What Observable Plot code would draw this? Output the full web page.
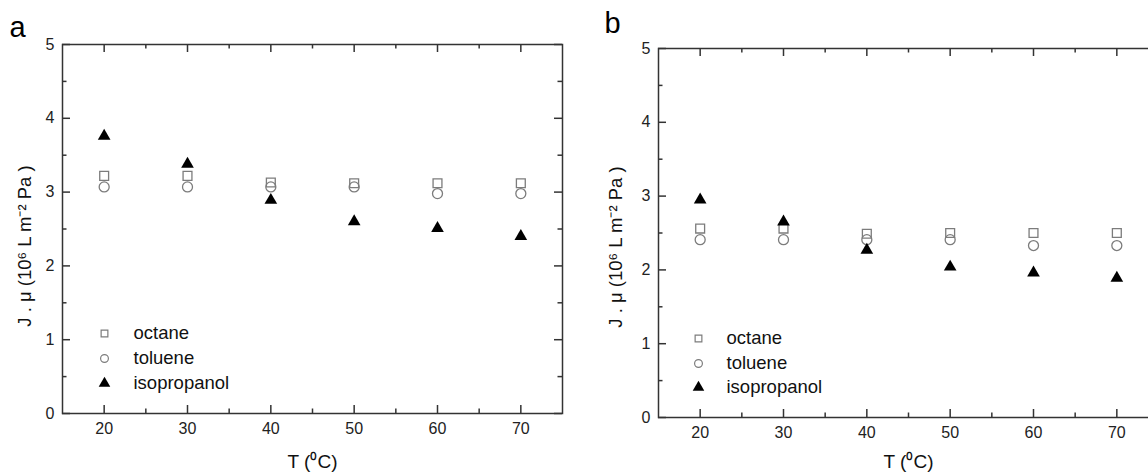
<!DOCTYPE html>
<html>
<head>
<meta charset="utf-8">
<script src="https://cdn.jsdelivr.net/npm/d3@7"></script>
<script src="https://cdn.jsdelivr.net/npm/@observablehq/plot@0.6"></script>
<style>
  html, body { margin: 0; padding: 0; background: #fff; }
  #wrap { position: relative; width: 1148px; height: 473px; overflow: hidden; background: #fff; }
  #wrap > div { position: absolute; top: 0; }
  #wrap svg { max-width: none !important; }
</style>
</head>
<body>
<div id="wrap"><div id="pa" style="left:0;width:574px"></div><div id="pb" style="left:574px;width:600px"></div></div>
<script>
// ---- data ----
const temps = [20, 30, 40, 50, 60, 70];
const seriesNames = ["octane", "toluene", "isopropanol"];
const aOctane = [3.22, 3.22, 3.13, 3.12, 3.12, 3.12];
const aToluene = [3.07, 3.07, 3.07, 3.07, 2.98, 2.98];
const aIsopropanol = [3.76, 3.38, 2.89, 2.60, 2.51, 2.40];
const bOctane = [2.56, 2.56, 2.49, 2.50, 2.50, 2.50];
const bToluene = [2.41, 2.41, 2.41, 2.41, 2.33, 2.33];
const bIsopropanol = [2.95, 2.65, 2.27, 2.04, 1.96, 1.89];
const xMajor = [20, 30, 40, 50, 60, 70];
const xMinor = [25, 35, 45, 55, 65];
const yMajor = [0, 1, 2, 3, 4, 5];
const yMinor = [0.5, 1.5, 2.5, 3.5, 4.5];
const yLabel = "J . \u03bc (10\u2076 L m\u207b\u00b2 Pa )";
const xLabel = "T (\u2070C)";

const FONT = "'Liberation Sans', Arial, Helvetica, sans-serif";
const GREY = "#7c7c7c";
const INK = "#222";

function rows(vals) { return temps.map((t, i) => ({t, v: vals[i]})); }

function panel(cfg) {
  const W = cfg.width - cfg.ml - cfg.mr;
  const H = cfg.height - cfg.mt - cfg.mb;
  const MAJ = 8, MIN = 4.5;
  const styles = [
    {symbol: "square", r: 5, fill: "none", stroke: GREY, strokeWidth: 1.3},
    {symbol: "circle", r: 5, fill: "none", stroke: GREY, strokeWidth: 1.3},
    {symbol: "triangle", r: 4.7, fill: "#000", stroke: "none"}
  ];
  const legStyles = [
    {symbol: "square", r: 3.8, fill: "none", stroke: GREY, strokeWidth: 1.2},
    {symbol: "circle", r: 3.9, fill: "none", stroke: GREY, strokeWidth: 1.2},
    {symbol: "triangle", r: 4.3, fill: "#000", stroke: "none"}
  ];
  const marks = [
    Plot.frame({stroke: "#333", strokeWidth: 1.5}),
    // inside ticks
    Plot.tickX(xMajor, {x: d => d, insetTop: H - MAJ, stroke: "#333", strokeWidth: 1.5}),
    Plot.tickX(xMajor, {x: d => d, insetBottom: H - MAJ, stroke: "#333", strokeWidth: 1.5}),
    Plot.tickX(xMinor, {x: d => d, insetTop: H - MIN, stroke: "#333", strokeWidth: 1.5}),
    Plot.tickX(xMinor, {x: d => d, insetBottom: H - MIN, stroke: "#333", strokeWidth: 1.5}),
    Plot.tickY(yMajor, {y: d => d, insetRight: W - MAJ, stroke: "#333", strokeWidth: 1.5}),
    Plot.tickY(yMajor, {y: d => d, insetLeft: W - MAJ, stroke: "#333", strokeWidth: 1.5}),
    Plot.tickY(yMinor, {y: d => d, insetRight: W - MIN, stroke: "#333", strokeWidth: 1.5}),
    Plot.tickY(yMinor, {y: d => d, insetLeft: W - MIN, stroke: "#333", strokeWidth: 1.5}),
    Plot.axisX(xMajor, {tickSize: 0, tickPadding: 9, fontSize: 16, fill: INK, label: null, tickFormat: d => String(d)}),
    Plot.axisY(yMajor, {tickSize: 0, tickPadding: 8, fontSize: 16, fill: INK, label: null, tickFormat: d => String(d)}),
    // data
    ...cfg.series.map((vals, i) => Plot.dot(rows(vals), {x: "t", y: "v", ...styles[i]})),
    // legend
    ...seriesNames.map((name, i) => Plot.dot([name], {frameAnchor: "bottom-left", dx: cfg.legDx, dy: cfg.legDy[i], ...legStyles[i]})),
    ...seriesNames.map((name, i) => Plot.text([name], {frameAnchor: "bottom-left", dx: cfg.legTx, dy: cfg.legDy[i], textAnchor: "start", lineAnchor: "middle", fontSize: 18.5, fill: "#111"})),
    // axis titles
    Plot.text([yLabel], {frameAnchor: "left", dx: cfg.ylDx, dy: cfg.ylDy, rotate: -90, textAnchor: "middle", lineAnchor: "middle", fontSize: 18.5, fill: "#111"}),
    Plot.text([xLabel], {frameAnchor: "bottom", dx: 0, dy: cfg.xlDy, textAnchor: "middle", lineAnchor: "middle", fontSize: 19, fill: "#111"}),
    // panel letter
    Plot.text([cfg.letter], {frameAnchor: "top-left", dx: cfg.letDx, dy: cfg.letDy, fontSize: 29, fill: "#000", textAnchor: "middle", lineAnchor: "middle"})
  ];
  return Plot.plot({
    width: cfg.width, height: cfg.height,
    marginLeft: cfg.ml, marginRight: cfg.mr, marginTop: cfg.mt, marginBottom: cfg.mb,
    x: {domain: [15, 75]},
    y: {domain: [0, 5]},
    style: {fontFamily: FONT, background: "transparent", overflow: "visible", color: INK, maxWidth: "none"},
    marks
  });
}

document.getElementById("pa").appendChild(panel({
  width: 574, height: 473, ml: 62, mr: 12, mt: 44, mb: 60,
  series: [aOctane, aToluene, aIsopropanol],
  legDx: 42, legTx: 71, legDy: [-80, -55, -30],
  ylDx: -37, ylDy: 17, xlDy: 48, letter: "a", letDx: -45, letDy: -17
}));
document.getElementById("pb").appendChild(panel({
  width: 600, height: 473, ml: 84, mr: 16, mt: 48, mb: 56,
  series: [bOctane, bToluene, bIsopropanol],
  legDx: 40, legTx: 68, legDy: [-79, -54, -30],
  ylDx: -42, ylDy: 14, xlDy: 44, letter: "b", letDx: -46, letDy: -25
}));
</script>
</body>
</html>
